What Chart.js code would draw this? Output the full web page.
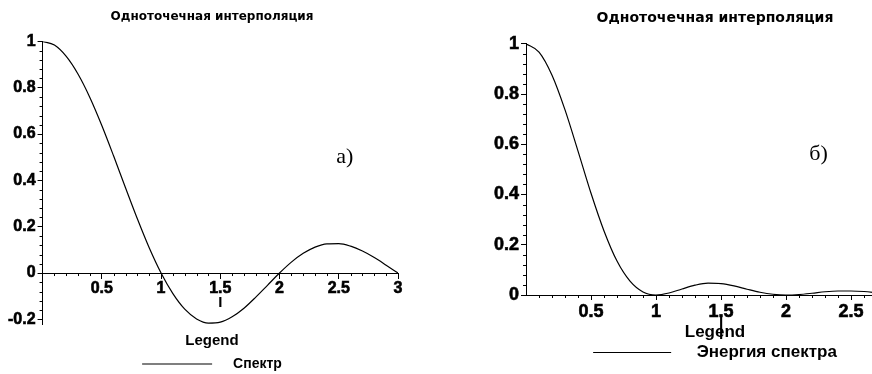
<!DOCTYPE html>
<html>
<head>
<meta charset="utf-8">
<script src="https://cdn.jsdelivr.net/npm/chart.js@4.4.1/dist/chart.umd.min.js"></script>
<style>
    html, body { margin: 0; padding: 0; background: #fff; overflow: hidden; width: 872px; height: 374px; }
    #boxA { position: absolute; left: 0; top: 0; width: 436px; height: 374px; }
    #boxB { position: absolute; left: 436px; top: 0; width: 570px; height: 374px; }
</style>
</head>
<body>
<div id="boxA"><canvas id="graficoA" width="436" height="374"></canvas></div>
<div id="boxB"><canvas id="graficoB" width="570" height="374"></canvas></div>
<script>
// частота (ось x)
const xValues = [0, 0.1, 0.2, 0.3, 0.4, 0.5, 0.6, 0.7, 0.8, 0.9, 1.0,
    1.1, 1.2, 1.3, 1.4, 1.5, 1.6, 1.7, 1.8, 1.9, 2.0,
    2.1, 2.2, 2.3, 2.4, 2.5, 2.6, 2.7, 2.8, 2.9, 3.0];

// а) Спектр
const spektr = [1, 0.984, 0.935, 0.858, 0.757, 0.637, 0.505, 0.368, 0.234, 0.109, 0,
    -0.089, -0.156, -0.198, -0.216, -0.212, -0.189, -0.152, -0.104, -0.052, 0,
    0.047, 0.085, 0.112, 0.126, 0.127, 0.116, 0.095, 0.067, 0.034, 0];

// б) Энергия спектра
const energiya = [1, 0.967, 0.875, 0.737, 0.573, 0.405, 0.255, 0.135, 0.055, 0.012, 0,
    0.008, 0.024, 0.039, 0.047, 0.045, 0.036, 0.023, 0.011, 0.003, 0,
    0.002, 0.007, 0.013, 0.016, 0.016, 0.014, 0.009, 0.004, 0.001, 0];

const xTicks = [0.5, 1, 1.5, 2, 2.5, 3];
const yTicksA = [-0.2, 0, 0.2, 0.4, 0.6, 0.8, 1];
const yTicksB = [0, 0.2, 0.4, 0.6, 0.8, 1];

const titulo = 'Одноточечная интерполяция';

// мелкие риски на осях
const minorTicks = {
    id: 'minorTicks',
    afterDraw(chart, args, opts) {
        const { ctx, scales: { x, y } } = chart;
        const axisY = y.getPixelForValue(0);
        const axisX = x.getPixelForValue(0);
        ctx.save();
        ctx.strokeStyle = '#000';
        ctx.lineWidth = 1;
        ctx.beginPath();
        for (let k = 1; k * 0.1 <= x.max + 1e-9; k++) {
            if (k % 5 === 0) continue;
            const px = Math.round(x.getPixelForValue(k * 0.1)) + 0.5;
            ctx.moveTo(px, axisY);
            ctx.lineTo(px, axisY + 3);
        }
        for (let k = Math.ceil(y.min / 0.04); k * 0.04 <= y.max + 1e-9; k++) {
            if (k % 5 === 0) continue;
            const py = Math.round(y.getPixelForValue(k * 0.04)) + 0.5;
            ctx.moveTo(axisX - 3, py);
            ctx.lineTo(axisX, py);
        }
        ctx.stroke();
        ctx.restore();
    }
};

// подпись а) / б)
const panelLabel = {
    id: 'panelLabel',
    afterDraw(chart, args, opts) {
        const { ctx, scales: { x, y } } = chart;
        ctx.save();
        ctx.fillStyle = '#000';
        ctx.font = '22px "Liberation Serif", "Times New Roman", serif';
        ctx.textAlign = 'center';
        ctx.textBaseline = 'middle';
        ctx.fillText(opts.text, x.getPixelForValue(opts.at[0]), y.getPixelForValue(opts.at[1]));
        ctx.restore();
    }
};

function crearGrafico(id, cfg) {
    const ctx = document.getElementById(id).getContext('2d');
    const tickFont = { family: '"Liberation Sans", Arial, sans-serif', size: cfg.tickSize, weight: 'bold' };

    return new Chart(ctx, {
        type: 'line',
        data: {
            datasets: [{
                label: cfg.label,
                data: xValues.map((v, i) => ({ x: v, y: cfg.values[i] })),
                borderColor: '#000',
                backgroundColor: '#000',
                borderWidth: 1.2,
                pointRadius: 0,
                fill: false,
                cubicInterpolationMode: 'monotone'
            }]
        },
        options: {
            responsive: false,
            animation: false,
            events: [],
            layout: { padding: cfg.padding },
            plugins: {
                title: {
                    display: true,
                    text: titulo,
                    color: '#000',
                    font: { family: '"DejaVu Sans", sans-serif', size: cfg.titleSize, weight: 'bold' },
                    padding: { top: 10, bottom: 17 }
                },
                legend: {
                    display: true,
                    position: 'bottom',
                    title: {
                        display: true,
                        text: 'Legend',
                        color: '#000',
                        font: { family: '"Liberation Sans", Arial, sans-serif', size: cfg.legendSize, weight: 'bold' },
                        padding: cfg.legendTitlePad
                    },
                    labels: {
                        usePointStyle: true,
                        pointStyle: 'line',
                        pointStyleWidth: cfg.lineLen,
                        color: '#000',
                        padding: cfg.legendPad,
                        font: { family: '"Liberation Sans", Arial, sans-serif', size: cfg.itemSize, weight: 'bold' },
                        generateLabels(chart) {
                            return Chart.defaults.plugins.legend.labels.generateLabels(chart)
                                .map(item => ({ ...item, text: '\u2003' + item.text }));
                        }
                    }
                },
                tooltip: { enabled: false },
                minorTicks: {},
                panelLabel: { text: cfg.panel, at: cfg.panelAt }
            },
            scales: {
                x: {
                    type: 'linear',
                    min: 0,
                    max: 3,
                    position: cfg.xPosition,
                    afterBuildTicks: scale => { scale.ticks = xTicks.map(v => ({ value: v })); },
                    ticks: {
                        color: '#000', font: tickFont, padding: 1, maxRotation: 0,
                        textStrokeColor: '#000', textStrokeWidth: 0.6,
                        callback: v => String(v)
                    },
                    grid: { drawOnChartArea: false, color: '#000', tickLength: 5 },
                    border: { color: '#000', width: 1 },
                    title: cfg.xTitle
                },
                y: {
                    type: 'linear',
                    min: cfg.yMin,
                    max: 1,
                    position: 'left',
                    afterBuildTicks: scale => { scale.ticks = cfg.yTicks.map(v => ({ value: v })); },
                    ticks: {
                        color: '#000', font: tickFont, padding: 2,
                        textStrokeColor: '#000', textStrokeWidth: 0.6,
                        callback: v => String(v)
                    },
                    grid: { drawOnChartArea: false, color: '#000', tickLength: 5 },
                    border: { color: '#000', width: 1 }
                },
                // пустое место справа от графика
                yPad: {
                    position: 'right',
                    display: true,
                    grid: { display: false },
                    border: { display: false },
                    ticks: { display: false },
                    afterFit: scale => { scale.width = cfg.rightGap; }
                }
            }
        },
        plugins: [minorTicks, panelLabel]
    });
}

crearGrafico('graficoA', {
    label: 'Спектр',
    values: spektr,
    yMin: -0.22,
    yTicks: yTicksA,
    xPosition: { y: 0 },
    tickSize: 16,
    titleSize: 12,
    legendSize: 15,
    itemSize: 14,
    legendTitlePad: { top: 9, bottom: 0 },
    legendPad: 6,
    lineLen: 70,
    rightGap: 20,
    padding: { left: 6, right: 18, top: 0, bottom: -7 },
    panel: 'а)',
    panelAt: [2.55, 0.5],
    xTitle: {
        display: true,
        text: 'I',
        color: '#000',
        font: { family: '"Liberation Sans", Arial, sans-serif', size: 15, weight: 'bold' },
        padding: { top: -5, bottom: 5 }
    }
});

crearGrafico('graficoB', {
    label: 'Энергия спектра',
    values: energiya,
    yMin: 0,
    yTicks: yTicksB,
    xPosition: 'bottom',
    tickSize: 18,
    titleSize: 14,
    legendSize: 17,
    itemSize: 17,
    legendTitlePad: 0,
    legendPad: 0,
    lineLen: 78,
    rightGap: 22,
    padding: { left: 56, right: 68, top: 0, bottom: 3 },
    panel: 'б)',
    panelAt: [2.25, 0.56],
    xTitle: {
        display: true,
        text: '|',
        color: '#000',
        font: { family: '"Liberation Sans", Arial, sans-serif', size: 26, weight: 'normal', lineHeight: 1 },
        padding: { top: -10, bottom: -16 }
    }
});
</script>
</body>
</html>
